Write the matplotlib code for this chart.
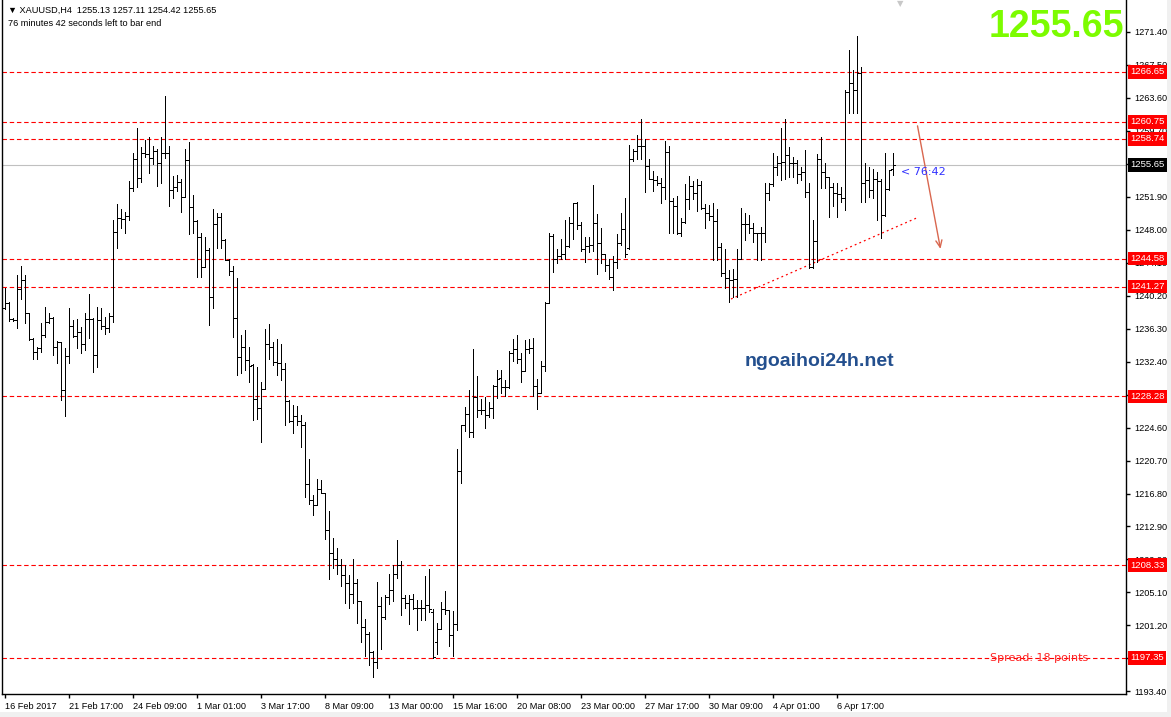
import matplotlib
matplotlib.use('Agg')
import matplotlib.pyplot as plt
from matplotlib.transforms import blended_transform_factory
from matplotlib.patches import Rectangle
import numpy as np

# XAUUSD H4 bars (open, high, low, close)
opens = [1238.69, 1239.36, 1237.39, 1237.31, 1240.94, 1242.04, 1238.10, 1235.03, 1233.53, 1233.96,
         1235.54, 1237.11, 1237.51, 1234.08, 1234.75, 1229.03, 1233.06, 1236.64, 1235.42, 1235.93,
         1234.47, 1237.39, 1237.39, 1233.17, 1237.31, 1236.64, 1236.33, 1237.79, 1247.68, 1249.34,
         1249.22, 1249.65, 1252.88, 1256.31, 1254.07, 1257.02, 1256.94, 1256.43, 1257.34, 1255.92,
         1257.02, 1257.10, 1252.69, 1253.00, 1253.67, 1251.90, 1256.23, 1250.64, 1249.00, 1247.09,
         1243.62, 1245.59, 1239.99, 1248.67, 1249.45, 1246.77, 1244.41, 1243.15, 1237.51, 1232.98,
         1234.08, 1232.58, 1231.95, 1228.00, 1226.90, 1229.19, 1234.51, 1234.11, 1232.34, 1232.26,
         1231.47, 1227.69, 1225.32, 1225.95, 1225.32, 1224.93, 1217.95, 1215.98, 1215.39, 1217.36,
         1216.85, 1212.51, 1209.79, 1209.08, 1208.29, 1207.19, 1206.24, 1204.94, 1206.24, 1204.04,
         1201.00, 1200.21, 1198.04, 1196.86, 1203.48, 1202.18, 1204.55, 1205.34, 1207.23, 1208.29,
         1204.43, 1203.88, 1204.35, 1203.25, 1203.25, 1203.25, 1203.56, 1202.78, 1199.23, 1200.80,
         1203.09, 1202.97, 1200.09, 1201.40, 1219.45, 1224.85, 1226.23, 1224.06, 1228.20, 1226.62,
         1226.62, 1226.11, 1226.90, 1229.50, 1230.48, 1229.38, 1229.42, 1233.44, 1233.91, 1232.65,
         1231.27, 1233.91, 1234.03, 1229.50, 1228.71, 1231.86, 1239.35, 1247.24, 1244.48, 1244.87,
         1245.07, 1246.06, 1248.81, 1251.10, 1248.50, 1245.66, 1246.06, 1246.13, 1248.74, 1246.37,
         1245.07, 1243.81, 1242.43, 1244.16, 1246.37, 1248.10, 1245.86, 1256.30, 1257.29, 1257.88,
         1257.88, 1255.52, 1254.02, 1253.82, 1253.47, 1253.07, 1257.17, 1251.38, 1250.79, 1247.63,
         1248.89, 1251.65, 1253.15, 1252.28, 1253.23, 1250.59, 1250.00, 1249.60, 1249.00, 1245.90,
         1242.84, 1242.25, 1242.05, 1242.13, 1244.50, 1248.67, 1248.67, 1248.16, 1247.57, 1247.57,
         1247.65, 1252.30, 1253.41, 1255.46, 1255.85, 1256.05, 1256.83, 1255.85, 1255.85, 1254.59,
         1254.86, 1252.50, 1243.63, 1246.70, 1256.32, 1254.86, 1254.27, 1253.09, 1252.30, 1252.22,
         1251.71, 1264.32, 1265.31, 1264.52, 1266.49, 1253.56, 1253.88, 1252.70, 1253.96, 1253.80,
         1249.74, 1252.77, 1255.13]
highs = [1241.14, 1239.48, 1237.51, 1242.63, 1243.70, 1242.63, 1238.10, 1235.14, 1234.16, 1236.92,
         1238.81, 1238.10, 1237.63, 1234.83, 1234.75, 1233.96, 1238.69, 1237.31, 1237.39, 1236.52,
         1238.10, 1240.35, 1237.51, 1238.89, 1238.69, 1237.71, 1238.10, 1249.14, 1250.99, 1250.40,
         1250.12, 1253.75, 1257.02, 1259.98, 1257.81, 1258.60, 1258.91, 1257.89, 1257.50, 1258.91,
         1263.80, 1257.89, 1254.34, 1254.46, 1253.95, 1257.50, 1258.40, 1252.09, 1249.14, 1247.56,
         1247.17, 1245.79, 1250.40, 1249.93, 1249.93, 1246.85, 1244.49, 1243.70, 1242.24, 1235.54,
         1236.13, 1234.16, 1232.14, 1231.75, 1229.97, 1236.28, 1236.87, 1234.71, 1235.10, 1234.51,
         1232.22, 1227.81, 1227.22, 1227.14, 1226.11, 1225.24, 1220.91, 1216.57, 1218.54, 1218.42,
         1216.85, 1214.68, 1211.53, 1210.34, 1209.08, 1208.29, 1207.11, 1209.08, 1206.72, 1204.04,
         1201.99, 1200.41, 1198.12, 1206.32, 1204.55, 1204.75, 1207.31, 1208.29, 1211.25, 1208.77,
         1204.83, 1204.75, 1204.94, 1204.15, 1204.15, 1207.03, 1207.82, 1203.17, 1201.51, 1203.96,
         1205.22, 1202.97, 1202.85, 1222.01, 1224.93, 1227.02, 1228.99, 1233.84, 1230.65, 1228.00,
         1228.20, 1227.61, 1229.66, 1231.43, 1231.39, 1230.17, 1233.64, 1235.10, 1235.49, 1233.36,
         1234.94, 1235.10, 1235.21, 1230.29, 1232.45, 1239.43, 1247.55, 1247.43, 1245.66, 1246.92,
         1249.13, 1249.52, 1251.10, 1251.26, 1248.89, 1247.16, 1247.16, 1253.23, 1249.80, 1248.22,
         1245.07, 1244.56, 1244.87, 1247.43, 1249.92, 1251.77, 1257.96, 1257.57, 1259.14, 1261.03,
         1258.67, 1256.30, 1254.92, 1254.33, 1254.14, 1258.47, 1257.88, 1251.77, 1251.97, 1249.41,
         1253.35, 1254.33, 1253.74, 1253.94, 1253.74, 1251.00, 1250.90, 1251.20, 1250.40, 1246.40,
         1245.68, 1243.23, 1243.31, 1245.68, 1250.53, 1249.94, 1249.74, 1248.75, 1247.57, 1248.28,
         1253.56, 1253.48, 1257.03, 1256.72, 1259.99, 1261.05, 1257.82, 1256.64, 1256.24, 1255.46,
         1257.43, 1253.56, 1249.15, 1256.95, 1258.92, 1255.93, 1254.27, 1253.56, 1253.48, 1253.09,
         1264.52, 1269.25, 1266.89, 1270.91, 1267.28, 1255.85, 1255.46, 1255.14, 1254.86, 1253.96,
         1257.11, 1255.06, 1257.11]
lows = [1238.57, 1237.23, 1237.23, 1236.33, 1239.76, 1237.00, 1234.95, 1232.66, 1232.66, 1233.57,
        1235.34, 1236.92, 1233.17, 1232.27, 1227.85, 1225.96, 1232.19, 1235.34, 1233.96, 1233.37,
        1233.76, 1235.14, 1231.12, 1231.71, 1236.21, 1235.62, 1235.93, 1237.11, 1245.87, 1248.23,
        1247.56, 1249.14, 1252.61, 1253.08, 1253.67, 1256.63, 1254.66, 1255.76, 1253.16, 1253.55,
        1256.43, 1250.79, 1251.70, 1252.61, 1250.12, 1251.82, 1247.48, 1247.56, 1242.36, 1242.36,
        1243.54, 1236.72, 1238.69, 1245.79, 1245.79, 1244.41, 1242.63, 1235.34, 1230.81, 1231.01,
        1231.40, 1230.02, 1225.44, 1225.64, 1222.88, 1229.19, 1232.73, 1231.95, 1230.84, 1230.17,
        1224.85, 1225.24, 1223.98, 1224.85, 1222.29, 1216.38, 1215.59, 1214.21, 1215.39, 1216.85,
        1211.45, 1206.64, 1207.98, 1207.31, 1205.85, 1203.88, 1203.25, 1203.88, 1201.51, 1199.23,
        1197.57, 1196.47, 1195.09, 1196.15, 1198.44, 1201.99, 1203.76, 1204.04, 1206.80, 1202.46,
        1203.25, 1201.40, 1203.17, 1200.61, 1201.79, 1201.79, 1202.78, 1197.33, 1197.85, 1200.80,
        1202.58, 1198.75, 1197.57, 1200.61, 1218.07, 1224.14, 1223.47, 1223.47, 1225.84, 1226.23,
        1224.53, 1225.84, 1225.72, 1228.08, 1228.71, 1228.32, 1229.30, 1232.45, 1232.26, 1229.97,
        1231.27, 1233.36, 1228.32, 1226.82, 1228.71, 1231.27, 1239.27, 1242.98, 1244.08, 1244.56,
        1244.56, 1245.98, 1246.92, 1248.03, 1245.46, 1244.16, 1245.35, 1245.46, 1242.70, 1244.08,
        1243.10, 1242.19, 1240.85, 1243.49, 1246.13, 1244.79, 1245.74, 1256.11, 1256.30, 1256.38,
        1252.44, 1253.94, 1252.56, 1253.23, 1251.10, 1251.57, 1247.63, 1247.63, 1247.43, 1247.24,
        1248.81, 1250.39, 1251.57, 1250.19, 1250.39, 1248.20, 1249.20, 1244.40, 1244.40, 1242.50,
        1241.07, 1239.49, 1240.08, 1240.08, 1244.50, 1246.78, 1247.57, 1246.59, 1244.42, 1244.42,
        1246.59, 1251.51, 1253.20, 1254.47, 1253.88, 1253.96, 1254.27, 1254.27, 1253.48, 1253.88,
        1251.91, 1243.43, 1243.50, 1244.22, 1252.89, 1252.89, 1249.54, 1250.80, 1249.54, 1251.32,
        1250.33, 1261.76, 1261.76, 1261.80, 1251.32, 1251.32, 1251.91, 1251.71, 1249.15, 1246.98,
        1249.62, 1252.70, 1254.42]
closes = [1239.28, 1237.39, 1237.31, 1240.94, 1242.04, 1238.10, 1235.03, 1233.53, 1233.96, 1235.54,
          1237.11, 1237.51, 1234.08, 1234.75, 1229.03, 1233.06, 1236.64, 1235.42, 1235.93, 1234.47,
          1237.39, 1237.39, 1233.17, 1237.31, 1236.64, 1236.33, 1237.79, 1247.68, 1249.34, 1249.22,
          1249.65, 1252.88, 1256.31, 1254.07, 1257.02, 1256.94, 1256.43, 1257.34, 1255.92, 1257.02,
          1257.10, 1252.69, 1253.00, 1253.67, 1251.90, 1256.23, 1250.64, 1249.00, 1247.09, 1243.62,
          1245.59, 1239.99, 1248.67, 1249.45, 1246.77, 1244.41, 1243.15, 1237.51, 1232.98, 1234.08,
          1232.58, 1231.87, 1228.00, 1226.90, 1229.19, 1234.51, 1234.11, 1232.34, 1232.26, 1231.47,
          1227.69, 1225.32, 1225.95, 1225.32, 1224.93, 1217.95, 1215.98, 1215.39, 1217.36, 1216.85,
          1212.51, 1209.79, 1209.08, 1208.29, 1207.19, 1206.24, 1204.94, 1206.24, 1204.04, 1201.00,
          1200.21, 1198.04, 1196.86, 1203.48, 1202.18, 1204.55, 1205.34, 1207.23, 1208.29, 1204.43,
          1203.88, 1204.35, 1203.25, 1203.25, 1203.25, 1203.56, 1203.17, 1197.45, 1200.80, 1203.09,
          1202.97, 1200.09, 1201.40, 1219.45, 1224.85, 1226.23, 1224.06, 1228.20, 1226.62, 1226.62,
          1226.11, 1226.90, 1229.50, 1230.37, 1229.38, 1229.42, 1233.44, 1233.91, 1232.65, 1231.27,
          1233.91, 1234.03, 1229.50, 1228.71, 1231.86, 1239.35, 1247.24, 1244.48, 1244.87, 1245.07,
          1246.06, 1248.81, 1251.10, 1248.50, 1245.66, 1246.06, 1246.13, 1248.74, 1246.37, 1245.07,
          1243.81, 1242.43, 1244.16, 1246.37, 1248.10, 1245.07, 1256.30, 1257.29, 1257.88, 1257.88,
          1255.52, 1254.02, 1253.82, 1253.47, 1253.07, 1257.17, 1251.38, 1250.79, 1247.63, 1248.89,
          1251.65, 1253.15, 1252.28, 1253.23, 1250.59, 1250.00, 1249.60, 1249.00, 1245.90, 1242.84,
          1242.25, 1242.05, 1242.13, 1244.50, 1248.67, 1248.67, 1248.16, 1247.57, 1247.57, 1247.65,
          1252.30, 1253.41, 1255.46, 1255.85, 1256.05, 1256.83, 1255.85, 1255.85, 1254.59, 1254.86,
          1252.50, 1243.63, 1246.70, 1256.32, 1254.86, 1254.27, 1253.09, 1252.30, 1252.22, 1251.71,
          1264.32, 1265.31, 1264.52, 1266.49, 1253.56, 1253.88, 1252.70, 1253.96, 1253.80, 1249.74,
          1252.77, 1255.06, 1255.65]

date_ticks = [0, 16, 32, 48, 64, 80, 96, 112, 128, 144, 160, 176, 192, 208]
date_labels = ['16 Feb 2017', '21 Feb 17:00', '24 Feb 09:00', '1 Mar 01:00', '3 Mar 17:00',
               '8 Mar 09:00', '13 Mar 00:00', '15 Mar 16:00', '20 Mar 08:00', '23 Mar 00:00',
               '27 Mar 17:00', '30 Mar 09:00', '4 Apr 01:00', '6 Apr 17:00']
price_ticks = [1271.40, 1267.50, 1263.60, 1259.70, 1255.80, 1251.90, 1248.00, 1244.10, 1240.20,
               1236.30, 1232.40, 1228.50, 1224.60, 1220.70, 1216.80, 1212.90, 1209.00, 1205.10,
               1201.20, 1197.30, 1193.40]
hidden_ticks = [1255.80, 1228.50, 1197.30]   # sit fully under the price boxes
levels = [1266.65, 1260.75, 1258.74, 1244.58, 1241.27, 1228.28, 1208.33, 1197.35]
last_price = 1255.65
trend_x = [181.5, 228]
trend_y = [1239.8, 1249.4]
arrow_from = (228, 1260.6)
arrow_to = (234, 1245.4)

W, H = 1171, 717
fig = plt.figure(figsize=(W / 100, H / 100), dpi=100)
fig.patch.set_facecolor('white')
ax = fig.add_axes([2 / W, 23 / H, 1124 / W, 694 / H])
ax.set_xlim(-0.75, 280.25)
ax.set_ylim(1193.09, 1275.16)

idx = np.arange(len(opens))
ax.vlines(idx, lows, highs, colors='black', lw=0.72, antialiased=False, zorder=3)
ax.hlines(opens, idx - 0.5, idx, colors='black', lw=0.72, antialiased=False, zorder=3)
ax.hlines(closes, idx, idx + 0.5, colors='black', lw=0.72, antialiased=False, zorder=3)

# levels
for lv in levels:
    ax.axhline(lv, color='#ff0000', lw=0.8, linestyle=(0, (4, 2.5)), zorder=2)
ax.axhline(last_price, color='#c0c0c0', lw=0.8, zorder=1)

ax.plot(trend_x, trend_y, color='#ff0000', lw=0.9, linestyle=(0, (1.5, 2.5)), zorder=2)
ax.annotate('', xy=arrow_to, xytext=arrow_from,
            arrowprops=dict(arrowstyle='->,head_length=0.5,head_width=0.22',
                            color='#d9674f', lw=1))

# axes styling
for s in ['left', 'bottom', 'right']:
    ax.spines[s].set_color('black')
    ax.spines[s].set_linewidth(1)
ax.spines['top'].set_visible(False)

lab_font = 'Liberation Sans'
ax.yaxis.tick_right()
ax.set_yticks(price_ticks)
ax.set_yticklabels(['' if p in hidden_ticks else '%.2f' % p for p in price_ticks],
                   fontsize=6.6, family=lab_font)
ax.tick_params(axis='y', direction='out', length=3, pad=3, width=1)
ax.set_xticks(date_ticks)
ax.set_xticklabels(date_labels, fontsize=6.6, family=lab_font, ha='left')
ax.tick_params(axis='x', direction='out', length=3, pad=2.5, width=1)

tr = blended_transform_factory(ax.transAxes, ax.transData)
for lv in levels:
    ax.text(1.0 + 4 / 1124, lv, '%.2f' % lv, transform=tr, fontsize=6.8, family=lab_font,
            color='white', va='center', ha='left', clip_on=False, zorder=5,
            bbox=dict(boxstyle='square,pad=0.25', fc='#ff0000', ec='none'))
ax.text(1.0 + 4 / 1124, last_price, '%.2f' % last_price, transform=tr, fontsize=6.8,
        family=lab_font, color='white', va='center', ha='left', clip_on=False, zorder=5,
        bbox=dict(boxstyle='square,pad=0.25', fc='black', ec='none'))

# annotations
ax.text(224, 1254.8, '< 76:42', color='#3030ff', fontsize=8, va='center', ha='left')
fig.text(990 / W, 1 - 658 / H, 'Spread: 18 points', color='#ff2020', fontsize=8,
         va='center', ha='left')
fig.text(1124 / W, 1 - 27 / H, '1255.65', color='#7cfc00', fontsize=27,
         family='Liberation Sans', weight='bold', va='center', ha='right')
fig.text(819 / W, 1 - 362 / H, 'ngoaihoi24h.net', color='#234f8e', fontsize=14,
         family='Liberation Sans', weight='bold', va='center', ha='center')
fig.text(8 / W, 1 - 10 / H, '\u25bc XAUUSD,H4  1255.13 1257.11 1254.42 1255.65', fontsize=6.6,
         family=[lab_font, 'DejaVu Sans'], va='center', ha='left')
fig.text(8 / W, 1 - 23 / H, '76 minutes 42 seconds left to bar end', fontsize=6.6,
         family=lab_font, va='center', ha='left')
fig.text(900 / W, 1 - 4 / H, '\u25bc', color='#c8c8c8', fontsize=6, va='center', ha='center')

# window frame strips
fig.patches.append(Rectangle((0, 0), 1, 5 / H, transform=fig.transFigure, fc='#f0f0f0',
                             ec='none', zorder=-1))
fig.patches.append(Rectangle((1 - 4 / W, 0), 4 / W, 1, transform=fig.transFigure, fc='#f0f0f0',
                             ec='none', zorder=-1))

fig.savefig('out.png', dpi=100)
